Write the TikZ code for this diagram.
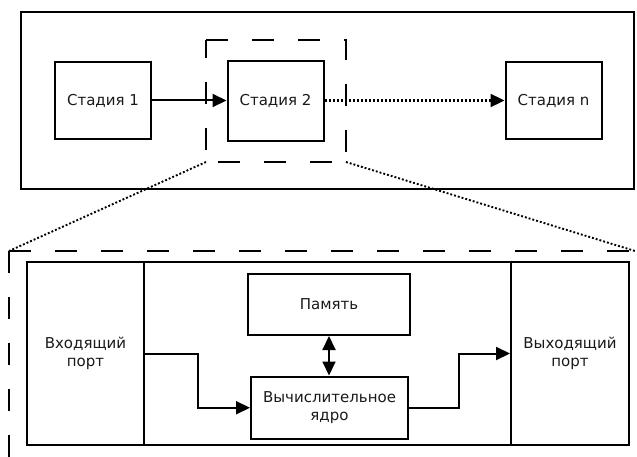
\documentclass[tikz,border=0pt]{standalone}
\usepackage{fontspec}
\setmainfont{DejaVu Sans}
\usetikzlibrary{arrows.meta}
\begin{document}
\begin{tikzpicture}[x=1pt,y=-1pt,
  every node/.style={font=\fontsize{15}{18.5}\selectfont, text=black!90, align=center, inner sep=0pt},
  box/.style={draw, line width=2pt, minimum width=#1},
  stagebox/.style={draw, line width=2pt, minimum width=96pt, minimum height=77pt},
  region/.style={draw, line width=2pt, minimum height=183pt},
  link/.style={line width=2pt, -{Triangle[length=14pt,width=13pt]}},
  dotlink/.style={line width=2.3pt, dash pattern=on 2pt off 2pt, -{Triangle[length=14pt,width=13pt]}},
  zoomline/.style={line width=1.9pt, dash pattern=on 1.9pt off 2pt},
  longdash/.style={line width=2pt, dash pattern=on 22pt off 24pt}]
\useasboundingbox (0,0) rectangle (637,457);

% pipeline of stages
\node[draw, line width=2pt, minimum width=613pt, minimum height=177pt] (pipe) at (327.5,101) {};
\node[stagebox] (s1) at (103,100.5) {Стадия 1};
\node[stagebox, minimum height=80pt] (s2) at (275.5,101) {Стадия 2};
\node[stagebox] (sn) at (553.5,100.5) {Стадия n};
\draw[link] (s1.east) -- (s1.east -| s2.west);
\draw[dotlink] (s2.east |- s1.east) -- (sn.west);

% highlight around stage 2
\coordinate (hl) at (206,40);
\coordinate (hr) at (346,40);
\coordinate (hbl) at (206,162);
\coordinate (hbr) at (346,162);
\draw[longdash] (hl) -- (hr) -- (hbr) -- (hbl) -- cycle;

% detailed view of stage 2
\coordinate (dl) at (9,251);
\coordinate (dr) at (635,251);
\coordinate (db) at (9,457);
\draw[zoomline] (hbl) -- (dl);
\draw[zoomline] (hbr) -- (dr);
\draw[longdash] (dl) -- (db);
\draw[longdash] (dl) -- (dr);

\node[region, minimum width=117pt] (inport) at (85.5,353.5) {Входящий\\порт};
\node[region, minimum width=367pt] (mid) at (327.5,353.5) {};
\node[region, minimum width=118pt] (outport) at (570,353.5) {Выходящий\\порт};
\node[box=162pt, minimum height=61pt] (mem) at (329,304.5) {Память};
\node[box=157pt, minimum height=62.5pt] (core) at (329.5,407.75) {Вычислительное\\ядро};

\coordinate (inturn) at (198,353.5);
\coordinate (outturn) at (459,353.5);
\draw[link] (inport.east) -- (inturn) |- (core.west);
\draw[link] (core.east) -| (outturn) -- (outport.west);
\draw[line width=2pt, {Triangle[length=14pt,width=13pt]}-{Triangle[length=14pt,width=13pt]}] (core.north -| mem.south) -- (mem.south);
\end{tikzpicture}
\end{document}
